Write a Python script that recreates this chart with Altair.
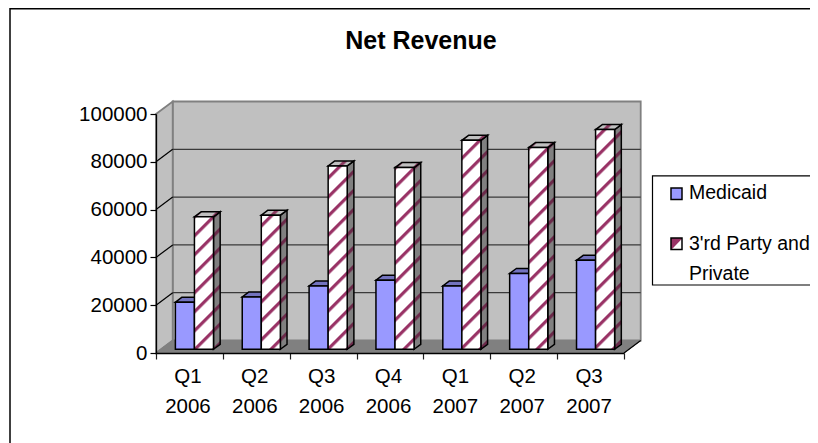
import json
import altair as alt
import pandas as pd

quarters = ["Q1", "Q2", "Q3", "Q4", "Q1", "Q2", "Q3"]
years = ["2006", "2006", "2006", "2006", "2007", "2007", "2007"]
medicaid = [19700, 21900, 26500, 28900, 26500, 31700, 37200]
third_party = [55400, 56100, 76700, 76000, 87400, 84400, 91900]
series = ["Medicaid", "3'rd Party and\nPrivate"]
title = "Net Revenue"
FONT = "Liberation Sans"

W, H = 468, 239
N = len(quarters)
PXX, PXY = W / N, H / 100000
DX, DY = 16.7 / PXX, 12.5 / PXY      # depth of the box, in data units
BAR = 0.285
D0, D1 = 0.3, 0.7                    # bar depth inside the box
MAROON, BLUE = "#993366", "#9999ff"
SLOPE, PERIOD, STRIPE = 1.0, 19.0, 4.5

xs = alt.Scale(domain=[0, N], nice=False, zero=False)
ys = alt.Scale(domain=[0, 100000], nice=False, zero=False)
xlabels = [[q, y] for q, y in zip(quarters, years)] + [[""]]
xaxis = alt.Axis(
    values=list(range(N + 1)), grid=False, domainColor="#000000", domainWidth=1.3,
    tickColor="#202020", tickSize=6, tickWidth=1.2, labelOffset=W / N / 2 - 2,
    labelExpr="%s[datum.value]" % json.dumps(xlabels), labelLineHeight=30,
    labelFont=FONT, labelFontSize=20.5, labelColor="#000000", labelPadding=7,
    labelFlush=False, labelOverlap=False, labelBaseline="top", zindex=1)
yaxis = alt.Axis(
    values=[0, 20000, 40000, 60000, 80000, 100000], grid=False, format="d",
    domainColor="#000000", domainWidth=1.3, tickColor="#000000", tickSize=6, tickWidth=1.2,
    labelFont=FONT, labelFontSize=20.5, labelColor="#000000", labelPadding=3, zindex=1)
X = alt.X("x:Q", scale=xs, axis=xaxis, title=None)
Y = alt.Y("y:Q", scale=ys, axis=yaxis, title=None)


def hatch(w, h, f0, base, stripe=MAROON):
    """Diagonal stripes as a linear gradient on a w x h box (px)."""
    F = SLOPE * w + h
    A, B = SLOPE * w / F, h / F
    n = A * A + B * B
    stops = [{"offset": 0, "color": base}]
    k = int(f0 // PERIOD) - 1
    while True:
        a = k * PERIOD + 10 - f0
        k += 1
        if a > F:
            break
        for f, c in ((a - 1.0, base), (a + 1.0, stripe), (a + STRIPE - 1.0, stripe), (a + STRIPE + 1.0, base)):
            if 0 < f < F:
                stops.append({"offset": f / F, "color": c})
    stops.append({"offset": 1, "color": base})
    return {"gradient": "linear", "x1": 0, "y1": 0, "x2": A / n, "y2": B / n, "stops": stops}


def rect(x, x2, y, y2, **kw):
    return alt.Chart(pd.DataFrame([{"x": x, "x2": x2, "y": y, "y2": y2}])).mark_rect(clip=False, **kw).encode(
        x=X, x2=alt.X2("x2"), y=Y, y2=alt.Y2("y2"))


def vface(x0, x1, y0, y1, dy, **kw):
    d = [{"x": x0, "y": y0, "y2": y1}, {"x": x1, "y": y0 + dy, "y2": y1 + dy}]
    return alt.Chart(pd.DataFrame(d)).mark_area(orient="vertical", clip=False, **kw).encode(
        x=X, y=Y, y2=alt.Y2("y2"))


def hface(x0, x1, dx, y, dy, **kw):
    d = [{"x": x0, "x2": x1, "y": y}, {"x": x0 + dx, "x2": x1 + dx, "y": y + dy}]
    return alt.Chart(pd.DataFrame(d)).mark_area(orient="horizontal", clip=False, **kw).encode(
        x=X, x2=alt.X2("x2"), y=Y)


def seg(x, y, x2, y2, **kw):
    return alt.Chart(pd.DataFrame([{"x": x, "y": y, "x2": x2, "y2": y2}])).mark_rule(clip=False, **kw).encode(
        x=X, x2=alt.X2("x2"), y=Y, y2=alt.Y2("y2"))


one = pd.DataFrame({"a": [0]})
layers = []

# walls and floor
WALL = "#c0c0c0"
EDGE = "#808080"
layers.append(rect(DX, N + DX, DY, 100000 + DY, fill=WALL, stroke=EDGE, strokeWidth=1.8))
layers.append(vface(0, DX, 0, 100000, DY, fill=WALL, stroke=EDGE, strokeWidth=1.8))
layers.append(hface(0, N, DX, 0, DY, fill=EDGE, stroke=EDGE, strokeWidth=1))
layers.append(seg(N, 0, N + DX, DY, color="#000000", strokeWidth=1.2))
layers.append(seg(0, 0, DX, DY, color=EDGE, strokeWidth=1.2))
for g in [20000, 40000, 60000, 80000]:
    layers.append(seg(DX, g + DY, N + DX, g + DY, color="#3a3a3a", strokeWidth=1.3))
    layers.append(seg(0, g, DX, g + DY, color="#000000", strokeWidth=1.2))

# bars
y0 = D0 * DY
ox0, d_x, d_y = D0 * DX, (D1 - D0) * DX, (D1 - D0) * DY
SW = 1.5
for i in range(N):
    l = i + 0.5 - BAR + ox0
    m = i + 0.5 + ox0
    r = i + 0.5 + BAR + ox0
    # Medicaid
    v = medicaid[i]
    layers.append(hface(l, m, d_x, v + y0, d_y, fill="#7373bf", stroke="#000000", strokeWidth=SW))
    layers.append(rect(l, m, y0, v + y0, fill=BLUE, stroke="#000000", strokeWidth=SW))
    # 3'rd party
    v = third_party[i]
    bw = (r - m) * PXX
    bh = v * PXY
    dpx, dpy = d_x * PXX, d_y * PXY
    page_x = 156 + m * PXX
    page_top = 353 - (v + y0) * PXY
    f_front = SLOPE * page_x + page_top
    f_side = SLOPE * (page_x + bw) + page_top - dpy
    f_top = SLOPE * page_x + page_top - dpy
    layers.append(vface(r, r + d_x, y0, v + y0, d_y,
                        fill=hatch(dpx, bh + dpy, f_side, "#808080", "#6b2a4a"),
                        stroke="#000000", strokeWidth=SW))
    layers.append(hface(m, r, d_x, v + y0, d_y,
                        fill=hatch(bw + dpx, dpy, f_top, "#c0c0c0", "#8a3a60"),
                        stroke="#000000", strokeWidth=SW))
    layers.append(rect(m, r, y0, v + y0,
                       fill=hatch(bw, bh, f_front, "#ffffff"),
                       stroke="#000000", strokeWidth=SW))

# chart frame (page coordinates minus plot origin 156, 114)
PX0, PY0 = 156, 114
frame = alt.Chart(one)
layers.append(frame.mark_rule(color="#404040", strokeWidth=2, clip=False).encode(
    x=alt.value(10 - PX0), y=alt.value(8 - PY0), y2=alt.value(443 - PY0)))
layers.append(frame.mark_rule(color="#000000", strokeWidth=3, clip=False).encode(
    x=alt.value(10 - PX0), x2=alt.value(818 - PX0), y=alt.value(8 - PY0)))

# legend
layers.append(frame.mark_rect(fill="#ffffff", stroke="#000000", strokeWidth=1.2, clip=False).encode(
    x=alt.value(652.5 - PX0), x2=alt.value(830 - PX0), y=alt.value(175.8 - PY0), y2=alt.value(285 - PY0)))
layers.append(frame.mark_rect(fill=BLUE, stroke="#000000", strokeWidth=1.5, clip=False).encode(
    x=alt.value(671 - PX0), x2=alt.value(682 - PX0), y=alt.value(188 - PY0), y2=alt.value(199.5 - PY0)))
swatch = {"gradient": "linear", "x1": 0, "y1": 0, "x2": 1, "y2": 1, "stops": [
    {"offset": 0, "color": MAROON}, {"offset": 0.5, "color": MAROON},
    {"offset": 0.56, "color": "#ffffff"}, {"offset": 1, "color": "#ffffff"}]}
layers.append(frame.mark_rect(fill=swatch, stroke="#000000", strokeWidth=1.5, clip=False).encode(
    x=alt.value(671 - PX0), x2=alt.value(682 - PX0), y=alt.value(238 - PY0), y2=alt.value(249.5 - PY0)))
for s, by in zip(series, [198.5, 250]):
    layers.append(frame.mark_text(font=FONT, fontSize=19.5, align="left", baseline="alphabetic",
                                  lineBreak="\n", lineHeight=29.5, color="#000000", clip=False).encode(
        x=alt.value(689 - PX0), y=alt.value(by - PY0), text=alt.value(s)))

chart = alt.layer(*layers).properties(
    width=W, height=H,
    padding={"left": 148, "top": 106, "right": 802 - 148 - W, "bottom": 435 - 106 - H},
    autosize=alt.AutoSizeParams(type="none"),
    background="#ffffff",
    title=alt.TitleParams(title, font=FONT, fontSize=25, fontWeight="bold", color="#000000",
                          anchor="middle", frame="group", dx=31, dy=67, offset=0, baseline="alphabetic"),
).configure_view(stroke=None)

chart.save("out.html", embed_options={"renderer": "svg", "actions": False})
